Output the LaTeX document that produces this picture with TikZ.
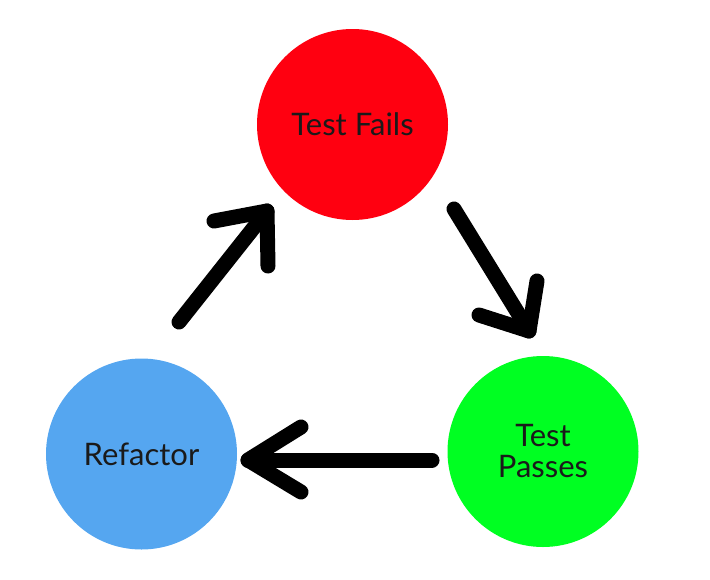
\documentclass[tikz,border=0pt]{standalone}
\usepackage{fontspec}
\setmainfont{Lato}
\definecolor{cred}{RGB}{255,0,16}
\definecolor{cgreen}{RGB}{0,255,34}
\definecolor{cblue}{RGB}{85,166,240}
\definecolor{ctext}{RGB}{26,26,26}
\begin{document}
\begin{tikzpicture}[x=1pt,y=-1pt,
  stage/.style={circle,minimum size=191pt,inner sep=0pt,text=ctext,
    font=\fontsize{31}{31}\selectfont,align=center},
  bigarrow/.style={line width=15pt,line cap=round,line join=round,draw=black}]
\useasboundingbox (0,0) rectangle (710,579);
\node[stage,fill=cred] (fails) at (352.5,124.5) {Test Fails};
\node[stage,fill=cgreen] (passes) at (543,451.5) {Test\\Passes};
\node[stage,fill=cblue] (refactor) at (141.5,454) {Refactor};
% arrow 1: refactor -> fails
\coordinate (a1t) at (179,322);
\coordinate (a1h) at (267,211);
\coordinate (a1l) at (214,221);
\coordinate (a1r) at (268,266);
\draw[bigarrow] (a1t) -- (a1h);
\draw[bigarrow] (a1l) -- (a1h) -- (a1r);
% arrow 2: fails -> passes
\coordinate (a2t) at (454,209);
\coordinate (a2h) at (529,331);
\coordinate (a2l) at (479,315);
\coordinate (a2r) at (537,281);
\draw[bigarrow] (a2t) -- (a2h);
\draw[bigarrow] (a2l) -- (a2h) -- (a2r);
% arrow 3: passes -> refactor
\coordinate (a3t) at (432,460);
\coordinate (a3h) at (248,460);
\coordinate (a3l) at (301,427);
\coordinate (a3r) at (301,492);
\draw[bigarrow] (a3t) -- (a3h);
\draw[bigarrow] (a3l) -- (a3h) -- (a3r);
\end{tikzpicture}
\end{document}
